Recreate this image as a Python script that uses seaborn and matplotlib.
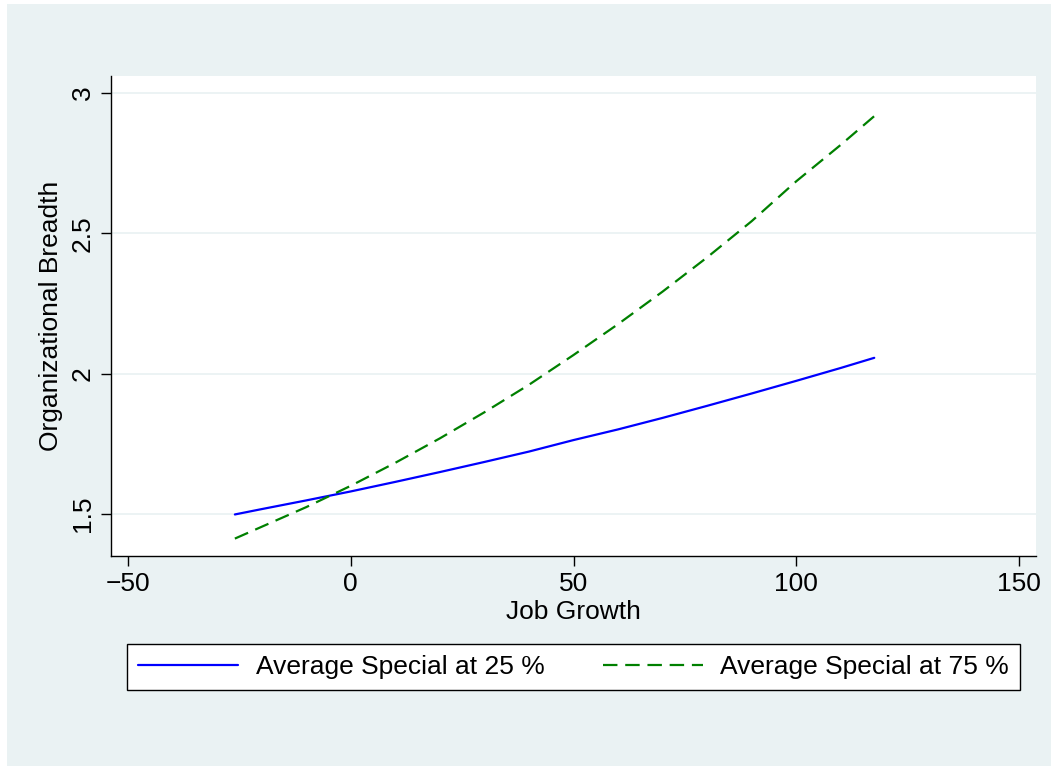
import numpy as np
import pandas as pd
import seaborn as sns
import matplotlib.pyplot as plt
from matplotlib.patches import Rectangle

# Values
job_growth = [-26, -20, -10, 0, 10, 20, 30, 40, 50, 60, 70, 80, 90, 100, 110, 117.5]
breadth_25 = [1.498, 1.517, 1.548, 1.580, 1.614, 1.649, 1.685, 1.722, 1.763,
              1.801, 1.842, 1.885, 1.929, 1.974, 2.020, 2.056]
breadth_75 = [1.412, 1.454, 1.524, 1.600, 1.682, 1.769, 1.862, 1.960, 2.066,
              2.176, 2.292, 2.414, 2.543, 2.685, 2.815, 2.917]
series_names = ['Average Special at 25 %', 'Average Special at 75 %']
x_ticks = [-50, 0, 50, 100, 150]
y_ticks = [1.5, 2, 2.5, 3]

df = pd.DataFrame({
    'Job Growth': job_growth * 2,
    'Organizational Breadth': breadth_25 + breadth_75,
    'Series': [series_names[0]] * len(job_growth) + [series_names[1]] * len(job_growth),
})

sns.set_theme(style="white")
plt.rcParams['font.family'] = ['Liberation Sans', 'DejaVu Sans']
plt.rcParams['font.size'] = 19
for key in ['text.color', 'axes.labelcolor', 'xtick.color', 'ytick.color']:
    plt.rcParams[key] = 'black'

bg = '#EAF2F3'
fig = plt.figure(figsize=(10.58, 7.70), dpi=100, facecolor='white')
fig.patches.append(Rectangle((7 / 1058, 4 / 770), 1044 / 1058, 762 / 770,
                             transform=fig.transFigure, facecolor=bg,
                             edgecolor='none', zorder=-10))

ax = fig.add_axes([111 / 1058, 1 - 556 / 770, (1036 - 111) / 1058, (556 - 76) / 770])
ax.set_facecolor('white')

sns.lineplot(data=df, x='Job Growth', y='Organizational Breadth', hue='Series',
             style='Series', palette={series_names[0]: '#0000FF', series_names[1]: '#008000'},
             dashes={series_names[0]: '', series_names[1]: (6.5, 3.5)},
             linewidth=1.6, ax=ax, sort=False)

ax.set_xlim(-53.8, 153.8)
ax.set_ylim(1.35, 3.06)
ax.set_xticks(x_ticks)
ax.set_xticklabels([str(t).replace('-', '\u2212') for t in x_ticks])
ax.set_yticks(y_ticks)
ax.set_yticklabels(['1.5', '2', '2.5', '3'], rotation=90, va='center')
ax.tick_params(axis='both', direction='out', length=7.5, width=1, color='black',
               labelcolor='black', labelsize=19, pad=4, bottom=True, left=True)
ax.grid(axis='y', color=bg, linewidth=1.3)
ax.set_axisbelow(True)

for side in ['top', 'right']:
    ax.spines[side].set_visible(False)
for side in ['left', 'bottom']:
    ax.spines[side].set_color('black')
    ax.spines[side].set_linewidth(1.0)

ax.set_xlabel('Job Growth', fontsize=19, labelpad=3, color='black')
ax.set_ylabel('Organizational Breadth', fontsize=19, labelpad=6, color='black')

# legend box spans the width of the plot region, like Stata
handles, labels = ax.get_legend_handles_labels()
ax.get_legend().remove()
leg = fig.legend(handles, labels, loc='center',
                 bbox_to_anchor=(127 / 1058, 1 - 691 / 770, (1020 - 127) / 1058, 48 / 770),
                 mode='expand', borderaxespad=0,
                 ncol=2, fontsize=19, frameon=True, fancybox=False, edgecolor='black',
                 framealpha=1, handlelength=3.8, handletextpad=0.65, columnspacing=1.6,
                 borderpad=0.42, labelcolor='black')
leg.get_frame().set_linewidth(1.0)

fig.savefig('out.png', dpi=100, facecolor='white')
